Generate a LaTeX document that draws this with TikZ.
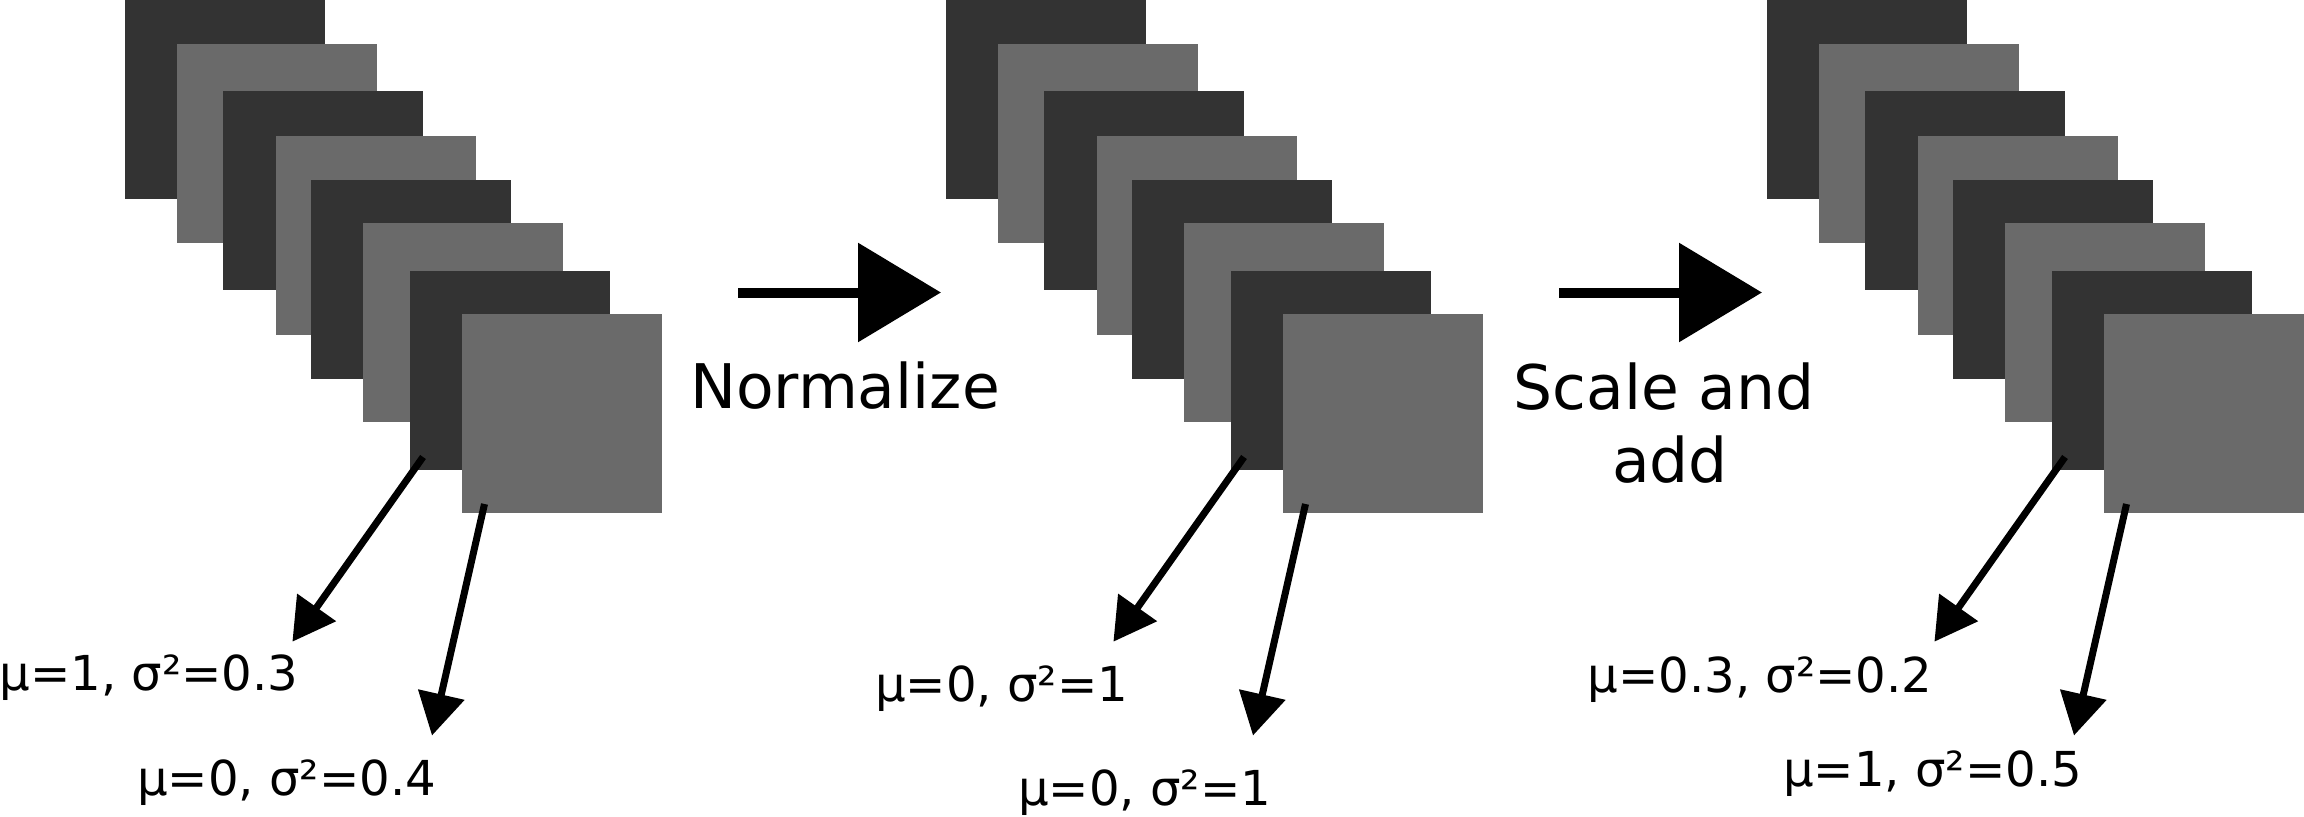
\documentclass[tikz,border=0pt]{standalone}
\usepackage{fontspec}
\setmainfont{DejaVu Sans}
\usetikzlibrary{arrows.meta}
\definecolor{darksq}{HTML}{333333}
\definecolor{lightsq}{HTML}{6A6A6A}
\begin{document}
\begin{tikzpicture}[x=0.1mm,y=-0.1mm,
  sqd/.style={rectangle, fill=darksq, draw=none, minimum width=20mm, minimum height=19.9mm, inner sep=0pt, outer sep=0pt, anchor=north west},
  sql/.style={sqd, fill=lightsq},
  lbl/.style={font=\fontsize{13.7}{16.4}\selectfont, inner sep=0pt, anchor=base},
  optext/.style={font=\fontsize{17.5}{21}\selectfont, inner sep=0pt, anchor=base},
  statarrow/.style={line width=0.7mm, -{Triangle[length=4.2mm,width=4.6mm]}},
  steparrow/.style={line width=1mm, -{Triangle[length=8.3mm,width=9.7mm]}}]
\useasboundingbox (0,0) rectangle (2304,816);

\foreach \g/\dx in {1/0, 2/821, 3/1642} {
  \node[sqd] (s\g-1) at (124.9+\dx, 0) {};
  \node[sql] (s\g-2) at (177.3+\dx, 44) {};
  \node[sqd] (s\g-3) at (223.2+\dx, 91.3) {};
  \node[sql] (s\g-4) at (276.0+\dx, 135.6) {};
  \node[sqd] (s\g-5) at (310.9+\dx, 179.5) {};
  \node[sql] (s\g-6) at (363.3+\dx, 222.8) {};
  \node[sqd] (s\g-7) at (409.6+\dx, 270.5) {};
  \node[sql] (s\g-8) at (462.0+\dx, 314.4) {};
  \coordinate (a\g) at (423+\dx, 457);
  \coordinate (ta\g) at (292.4+\dx, 641.7);
  \coordinate (b\g) at (484.5+\dx, 504);
  \coordinate (tb\g) at (432+\dx, 735.5);
  \draw[statarrow] (a\g) -- (ta\g);
  \draw[statarrow] (b\g) -- (tb\g);
}

% labels
\node[lbl] (l1a) at (149, 690) {μ=1, σ²=0.3};
\node[lbl] (l1b) at (286.7, 795.7) {μ=0, σ²=0.4};
\node[lbl] (l2a) at (1001.7, 701.7) {μ=0, σ²=1};
\node[lbl] (l2b) at (1144.7, 805.7) {μ=0, σ²=1};
\node[lbl] (l3a) at (1760, 692) {μ=0.3, σ²=0.2};
\node[lbl] (l3b) at (1932.5, 786.7) {μ=1, σ²=0.5};

% operation arrows
\coordinate (h1s) at (738, 292.5);
\coordinate (h1e) at (941, 292.5);
\coordinate (h2s) at (1559, 292.5);
\coordinate (h2e) at (1762, 292.5);
\draw[steparrow] (h1s) -- (h1e);
\draw[steparrow] (h2s) -- (h2e);

\node[optext] (norm) at (845, 408) {Normalize};
\node[optext] (scale1) at (1664, 409) {Scale and};
\node[optext] (scale2) at (1670, 482.5) {add};
\end{tikzpicture}
\end{document}
